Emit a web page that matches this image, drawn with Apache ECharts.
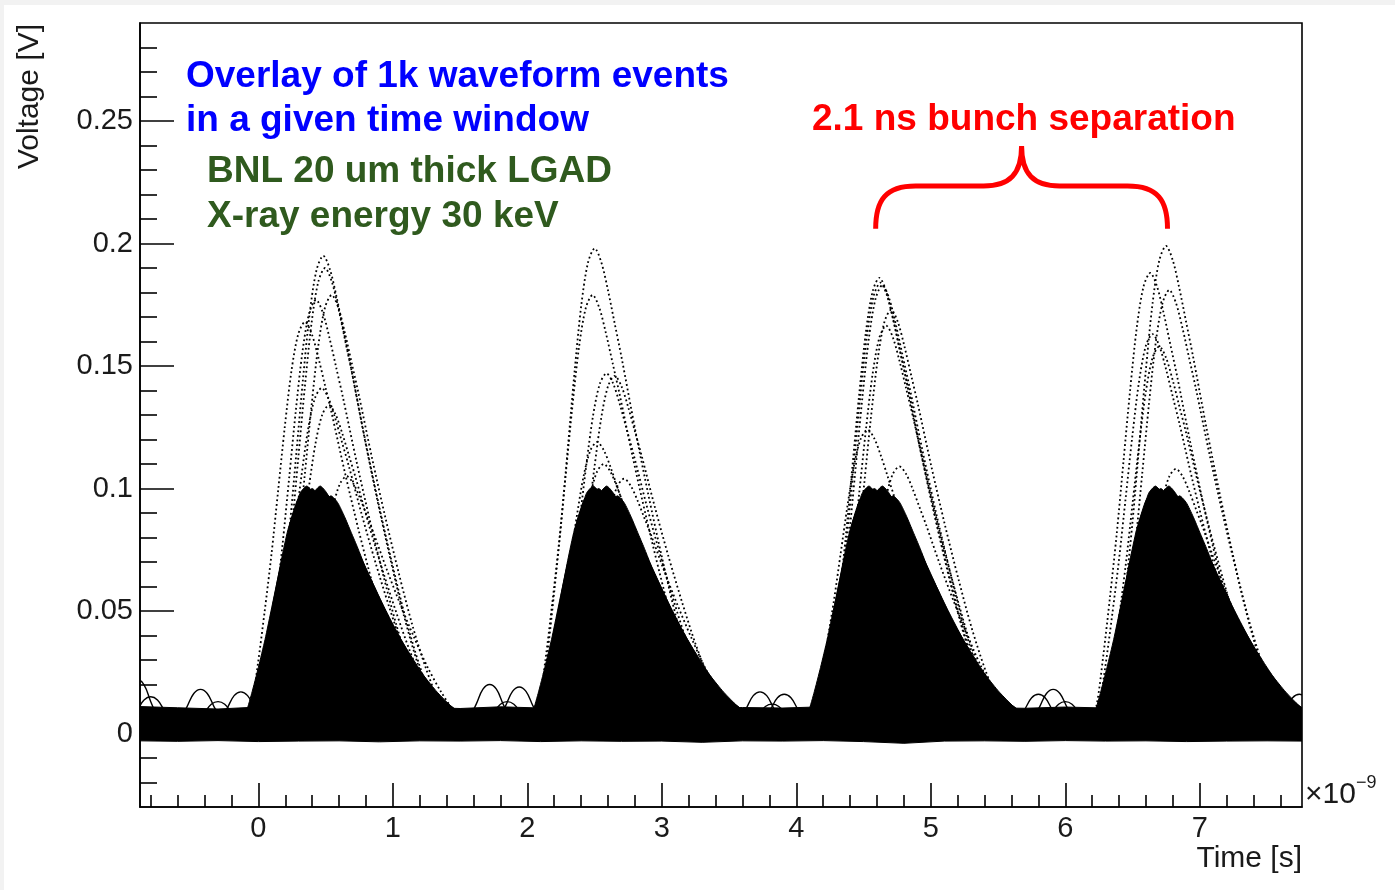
<!DOCTYPE html>
<html>
<head>
<meta charset="utf-8">
<script src="https://cdn.jsdelivr.net/npm/echarts@6/dist/echarts.min.js"></script>
<style>
html,body{margin:0;padding:0;background:#f2f2f2;width:1395px;height:890px;overflow:hidden;}
#bg{position:absolute;left:4px;top:5px;right:0;bottom:0;background:#fff;}
#c{position:absolute;left:0;top:0;width:1395px;height:890px;}
</style>
</head>
<body>
<div id="bg"></div>
<div id="c"></div>
<script>
// ---------------- data ----------------
// axis ticks (time in units of 1e-9 s, voltage in V)
const xMajorTicks = [0, 1, 2, 3, 4, 5, 6, 7];
const xMinorTicks = [-0.8, -0.6, -0.4, -0.2, 0.2, 0.4, 0.6, 0.8, 1.2, 1.4, 1.6, 1.8, 2.2, 2.4, 2.6, 2.8,
  3.2, 3.4, 3.6, 3.8, 4.2, 4.4, 4.6, 4.8, 5.2, 5.4, 5.6, 5.8, 6.2, 6.4, 6.6, 6.8, 7.2, 7.4, 7.6];
const yMajorTicks = [0, 0.05, 0.1, 0.15, 0.2, 0.25];
const yMinorTicks = [-0.02, -0.01, 0.01, 0.02, 0.03, 0.04, 0.06, 0.07, 0.08, 0.09, 0.11, 0.12, 0.13, 0.14,
  0.16, 0.17, 0.18, 0.19, 0.21, 0.22, 0.23, 0.24, 0.26, 0.27, 0.28];

// waveform baseline level and normalised pulse shape (time relative to peak, fraction of peak)
const baseline = 0.004;
const pulseDt    = [-0.45, -0.4, -0.35, -0.3, -0.25, -0.2, -0.15, -0.1, -0.05, 0, 0.05, 0.1, 0.15, 0.2, 0.3, 0.4, 0.5, 0.6, 0.7, 0.8, 0.9];
const pulseShape = [0, 0.04, 0.15, 0.28, 0.42, 0.58, 0.74, 0.88, 0.97, 1, 0.97, 0.91, 0.84, 0.77, 0.62, 0.48, 0.35, 0.23, 0.13, 0.05, 0];

// small baseline ripple shape
const bumpDt    = [-0.17, -0.1, -0.05, 0, 0.05, 0.1, 0.17];
const bumpShape = [0, 0.5, 0.88, 1, 0.88, 0.5, 0];

// bunch arrival times (centre of the dense ~0.1 V population)
const bunchCenters = [0.45, 2.58, 4.63, 6.76];
// dense population of pulses around each bunch centre: [time offset, peak voltage]
const corePulses = [
  [-0.15, 0.086], [-0.13, 0.094], [-0.11, 0.098], [-0.09, 0.101], [-0.07, 0.097], [-0.05, 0.100],
  [-0.03, 0.096], [-0.01, 0.099], [0.01, 0.101], [0.03, 0.095], [0.05, 0.098], [0.07, 0.094],
  [0.09, 0.097], [0.11, 0.092], [0.13, 0.089], [0.16, 0.085], [0.19, 0.080], [0.23, 0.072],
  [0.28, 0.060], [0.33, 0.045]
];
// individual high-amplitude events: [peak time, peak voltage]
const outliers1 = [[0.483, 0.195], [0.496, 0.190], [0.545, 0.179], [0.429, 0.177], [0.347, 0.168], [0.471, 0.141], [0.525, 0.134], [0.657, 0.105]];
const outliers2 = [[2.501, 0.198], [2.485, 0.179], [2.589, 0.147], [2.650, 0.146], [2.519, 0.119], [2.568, 0.110], [2.720, 0.104]];
const outliers3 = [[4.618, 0.186], [4.625, 0.184], [4.640, 0.183], [4.705, 0.173], [4.668, 0.1665], [4.530, 0.124], [4.767, 0.109]];
const outliers4 = [[6.749, 0.199], [6.632, 0.188], [6.773, 0.181], [6.649, 0.163], [6.699, 0.158], [6.823, 0.108]];
// baseline ripples between bunches: [time, peak voltage]
const bumps = [[-0.90, 0.022], [-0.80, 0.015], [-0.43, 0.018], [-0.30, 0.013], [-0.13, 0.017],
  [1.72, 0.020], [1.85, 0.013], [1.94, 0.019], [3.73, 0.017], [3.82, 0.012], [3.91, 0.016],
  [5.80, 0.016], [5.91, 0.018], [6.00, 0.013], [7.74, 0.016]];

// dense noise band of all overlaid baselines
const baseT = [-0.88, -0.6, -0.3, 0, 0.3, 0.6, 0.9, 1.2, 1.5, 1.8, 2.1, 2.4, 2.7, 3.0, 3.3, 3.6, 3.9, 4.2, 4.5, 4.8,
  5.1, 5.4, 5.7, 6.0, 6.3, 6.6, 6.9, 7.2, 7.5, 7.76];
const baseTop = [0.0110, 0.0105, 0.0100, 0.0108, 0.0103, 0.0110, 0.0104, 0.0107, 0.0102, 0.0109, 0.0104, 0.0106,
  0.0101, 0.0108, 0.0103, 0.0106, 0.0104, 0.0109, 0.0102, 0.0107, 0.0104, 0.0105, 0.0103, 0.0108, 0.0104, 0.0106,
  0.0103, 0.0107, 0.0105, 0.0104];
const baseBottom = [-0.0030, -0.0032, -0.0029, -0.0033, -0.0031, -0.0030, -0.0034, -0.0030, -0.0031, -0.0029,
  -0.0033, -0.0030, -0.0032, -0.0031, -0.0036, -0.0030, -0.0031, -0.0029, -0.0033, -0.0040, -0.0031, -0.0030,
  -0.0032, -0.0029, -0.0031, -0.0030, -0.0033, -0.0031, -0.0030, -0.0031];

// "2.1 ns" brace: from/to time, and its foot / bar / tip voltages
const braceT = [4.59, 6.76];
const braceV = [0.206, 0.2235, 0.2398];

// ---------------- chart ----------------
const FONT = '"Liberation Sans", Arial, Helvetica, sans-serif';
const coreData = [];
bunchCenters.forEach(c => corePulses.forEach(p => coreData.push([c + p[0], p[1]])));
const outlierData = [].concat(outliers1, outliers2, outliers3, outliers4);

function pulsePoints(api, t0, peak) {
  return pulseDt.map((d, i) => api.coord([t0 + d, baseline + (peak - baseline) * pulseShape[i]]));
}

const chart = echarts.init(document.getElementById('c'), null, {renderer: 'canvas', width: 1395, height: 890});

const axisLineStyle = {color: '#000', width: 1.6};
const option = {
  backgroundColor: 'transparent',
  animation: false,
  grid: {left: 140, right: 93, top: 23, bottom: 83, show: true, borderColor: '#000', borderWidth: 1.6,
    containLabel: false, outerBoundsMode: 'none'},
  xAxis: [
    {type: 'value', min: -0.88, max: 7.76, position: 'bottom',
      axisLine: {show: true, onZero: false, lineStyle: axisLineStyle},
      axisTick: {show: true, inside: true, length: 24, customValues: xMajorTicks, lineStyle: axisLineStyle},
      axisLabel: {show: true, customValues: xMajorTicks, fontSize: 29, color: '#1a1a1a', margin: 7, fontFamily: FONT,
        formatter: v => String(v)},
      splitLine: {show: false}},
    {type: 'value', min: -0.88, max: 7.76, position: 'bottom',
      axisLine: {show: false, onZero: false},
      axisTick: {show: true, inside: true, length: 12, customValues: xMinorTicks, lineStyle: axisLineStyle},
      axisLabel: {show: false}, splitLine: {show: false}}
  ],
  yAxis: [
    {type: 'value', min: -0.03, max: 0.29, position: 'left',
      axisLine: {show: true, onZero: false, lineStyle: axisLineStyle},
      axisTick: {show: true, inside: true, length: 34, customValues: yMajorTicks, lineStyle: axisLineStyle},
      axisLabel: {show: true, customValues: yMajorTicks, fontSize: 29, color: '#1a1a1a', margin: 7, fontFamily: FONT,
        formatter: v => String(v)},
      splitLine: {show: false}},
    {type: 'value', min: -0.03, max: 0.29, position: 'left',
      axisLine: {show: false, onZero: false},
      axisTick: {show: true, inside: true, length: 17, customValues: yMinorTicks, lineStyle: axisLineStyle},
      axisLabel: {show: false}, splitLine: {show: false}}
  ],
  series: [
    { // baseline noise band
      type: 'custom', clip: true, silent: true, data: [[0, 0]], encode: {x: 0, y: 1},
      renderItem: (params, api) => {
        const pts = [];
        baseT.forEach((t, i) => pts.push(api.coord([t, baseTop[i]])));
        for (let i = baseT.length - 1; i >= 0; i--) pts.push(api.coord([baseT[i], baseBottom[i]]));
        return {type: 'polygon', shape: {points: pts}, style: {fill: '#000', stroke: '#000', lineWidth: 1}};
      }
    },
    { // dense pulse population
      type: 'custom', clip: true, silent: true, data: coreData, encode: {x: 0, y: 1},
      renderItem: (params, api) => ({
        type: 'polygon', shape: {points: pulsePoints(api, api.value(0), api.value(1)), smooth: 0.2},
        style: {fill: '#000', stroke: '#000', lineWidth: 1}
      })
    },
    { // individual large pulses (dotted traces)
      type: 'custom', clip: true, silent: true, data: outlierData, encode: {x: 0, y: 1},
      renderItem: (params, api) => ({
        type: 'polyline', shape: {points: pulsePoints(api, api.value(0), api.value(1)), smooth: 0.3},
        style: {fill: null, stroke: '#000', lineWidth: 1.8, lineDash: [1.8, 2.8]}
      })
    },
    { // baseline ripples
      type: 'custom', clip: true, silent: true, data: bumps, encode: {x: 0, y: 1},
      renderItem: (params, api) => {
        const t0 = api.value(0), peak = api.value(1);
        const pts = bumpDt.map((d, i) => api.coord([t0 + d, baseline + (peak - baseline) * bumpShape[i]]));
        return {type: 'polyline', shape: {points: pts, smooth: 0.4},
          style: {fill: null, stroke: '#000', lineWidth: 1.4}};
      }
    },
    { // red brace spanning one bunch spacing
      type: 'custom', clip: false, silent: true, data: [[braceT[0], braceV[0]]], encode: {x: 0, y: 1},
      renderItem: (params, api) => {
        const L = api.coord([braceT[0], braceV[0]]);
        const R = api.coord([braceT[1], braceV[0]]);
        const hY = api.coord([braceT[0], braceV[1]])[1];
        const tY = api.coord([braceT[0], braceV[2]])[1];
        const m = (L[0] + R[0]) / 2;
        const d = 'M' + L[0] + ',' + L[1] +
          ' C' + L[0] + ',' + (hY + 14) + ' ' + (L[0] + 10) + ',' + hY + ' ' + (L[0] + 40) + ',' + hY +
          ' L' + (m - 38) + ',' + hY +
          ' C' + (m - 12) + ',' + hY + ' ' + m + ',' + (hY - 12) + ' ' + m + ',' + tY +
          ' C' + m + ',' + (hY - 12) + ' ' + (m + 12) + ',' + hY + ' ' + (m + 38) + ',' + hY +
          ' L' + (R[0] - 40) + ',' + hY +
          ' C' + (R[0] - 10) + ',' + hY + ' ' + R[0] + ',' + (hY + 14) + ' ' + R[0] + ',' + R[1];
        return {type: 'path', shape: {pathData: d}, style: {fill: null, stroke: '#ff0000', lineWidth: 5}};
      }
    }
  ],
  graphic: [
    {type: 'text', x: 30, y: 24, rotation: Math.PI / 2, z: 10,
      style: {text: 'Voltage [V]', font: '30px ' + FONT, fill: '#1a1a1a', align: 'right', textAlign: 'right', verticalAlign: 'middle', textVerticalAlign: 'middle'}},
    {type: 'text', x: 1302, y: 859, z: 10,
      style: {text: 'Time [s]', font: '30px ' + FONT, fill: '#1a1a1a', align: 'right', textAlign: 'right', verticalAlign: 'middle', textVerticalAlign: 'middle'}},
    {type: 'text', x: 1305, y: 795, z: 10,
      style: {text: '\u00d710', font: '30px ' + FONT, fill: '#1a1a1a', align: 'left', textAlign: 'left', verticalAlign: 'middle', textVerticalAlign: 'middle'}},
    {type: 'text', x: 1356, y: 783, z: 10,
      style: {text: '\u22129', font: '18px ' + FONT, fill: '#1a1a1a', align: 'left', textAlign: 'left', verticalAlign: 'middle', textVerticalAlign: 'middle'}},
    {type: 'text', x: 186, y: 77, z: 10,
      style: {text: 'Overlay of 1k waveform events', font: 'bold 37px ' + FONT, fill: '#0000ff', align: 'left', textAlign: 'left', verticalAlign: 'middle', textVerticalAlign: 'middle'}},
    {type: 'text', x: 186, y: 121, z: 10,
      style: {text: 'in a given time window', font: 'bold 37px ' + FONT, fill: '#0000ff', align: 'left', textAlign: 'left', verticalAlign: 'middle', textVerticalAlign: 'middle'}},
    {type: 'text', x: 207, y: 172, z: 10,
      style: {text: 'BNL 20 um thick LGAD', font: 'bold 37px ' + FONT, fill: '#2f5a1e', align: 'left', textAlign: 'left', verticalAlign: 'middle', textVerticalAlign: 'middle'}},
    {type: 'text', x: 207, y: 217, z: 10,
      style: {text: 'X-ray energy 30 keV', font: 'bold 37px ' + FONT, fill: '#2f5a1e', align: 'left', textAlign: 'left', verticalAlign: 'middle', textVerticalAlign: 'middle'}},
    {type: 'text', x: 812, y: 120, z: 10,
      style: {text: '2.1 ns bunch separation', font: 'bold 37px ' + FONT, fill: '#ff0000', align: 'left', textAlign: 'left', verticalAlign: 'middle', textVerticalAlign: 'middle'}}
  ]
};
chart.setOption(option);
</script>
</body>
</html>
